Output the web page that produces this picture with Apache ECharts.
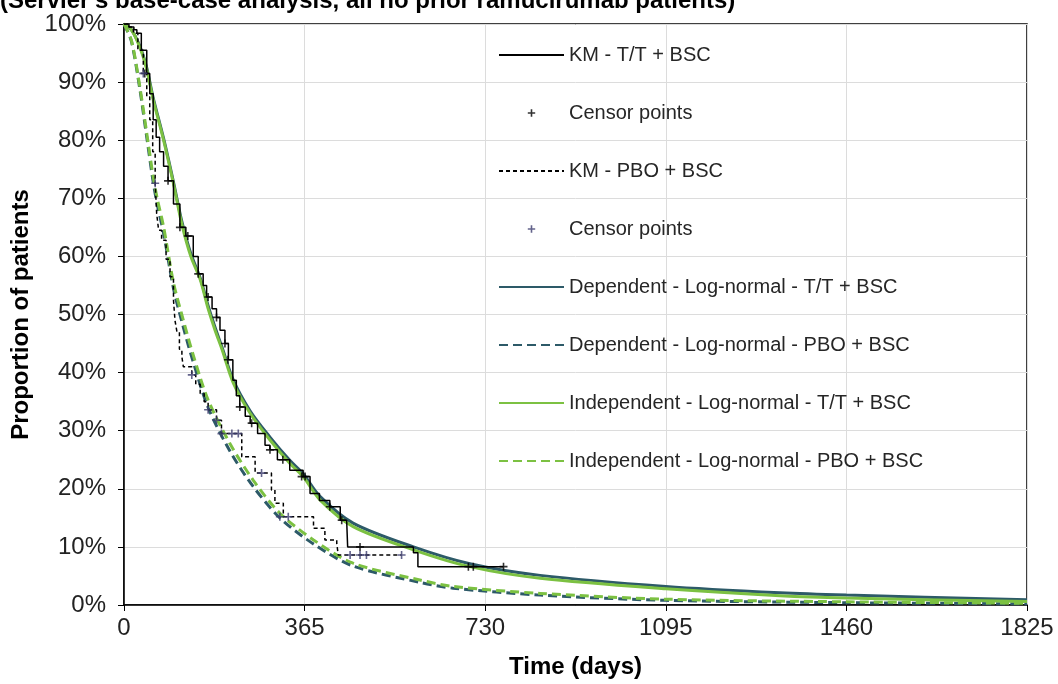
<!DOCTYPE html>
<html>
<head>
<meta charset="utf-8">
<script src="https://cdn.jsdelivr.net/npm/echarts@6/dist/echarts.min.js"></script>
<style>
  html, body { margin: 0; padding: 0; background: #fff; }
  #chart { width: 1058px; height: 684px; }
</style>
</head>
<body>
<div id="chart"></div>
<script>
// time in days, survival in %
const kmTTDays = [0, 10, 20, 26, 35, 46, 52, 59, 65, 72, 80, 89, 100, 113, 125, 140, 150, 160, 167, 178, 187, 194, 204, 211, 220, 227, 234, 245, 255, 270, 285, 295, 310, 335, 362, 376, 395, 416, 437, 450, 452, 585, 594, 767];
const kmTTSurv = [100, 99.5, 99, 98.4, 95.5, 91.5, 88, 83.5, 80.5, 78, 75.5, 73, 69, 65, 63.5, 60, 57, 55, 53, 51, 49.5, 47.3, 45, 42.2, 38.7, 36, 34.1, 32.5, 31.3, 29.5, 27.5, 26.7, 25, 23.2, 22.1, 19.2, 18, 16.9, 14.6, 14.3, 10, 9, 6.6, 6.6];

const censorTTDays = [42, 89, 113, 129, 150, 170, 187, 204, 210, 234, 258, 295, 321, 359, 366, 416, 440, 477, 696, 706, 767];
const censorTTSurv = [91.5, 73, 65, 63.5, 57, 53, 49.5, 45, 42.2, 34.1, 31.3, 26.7, 25, 22.1, 22.1, 16.9, 14.6, 10, 6.6, 6.6, 6.6];

const kmPBODays = [0, 10, 19, 28, 39, 46, 52, 58, 63, 66, 70, 76, 85, 93, 100, 103, 107, 112, 117, 120, 137, 145, 154, 162, 170, 187, 197, 238, 265, 298, 305, 322, 383, 406, 430, 433, 561];
const kmPBOSurv = [100, 99.5, 98.4, 95.5, 91.5, 87.5, 83.5, 78, 72.6, 67.4, 64.5, 62.8, 59.5, 56.5, 52.5, 49, 47, 44, 42.7, 41, 39.6, 38, 36.4, 35, 33.6, 31.8, 29.5, 25.5, 22.7, 19.8, 17.5, 15.2, 13.2, 11.2, 10.6, 8.6, 8.6];

const censorPBODays = [39, 63, 137, 170, 187, 197, 218, 231, 278, 315, 332, 457, 477, 490, 561];
const censorPBOSurv = [91.5, 72.6, 39.6, 33.6, 31.8, 29.5, 29.5, 29.5, 22.7, 15.2, 15.2, 8.6, 8.6, 8.6, 8.6];

const fitTTDays = [0, 15, 32, 45, 59, 80, 100, 117, 135, 154, 170, 184, 198, 221, 255, 295, 335, 362, 396, 463, 585, 699, 841, 1095, 1326, 1460, 1825];
const depTTSurv = [100, 99, 96.2, 92.8, 87.3, 80.3, 72.8, 66, 60.5, 56.3, 51.5, 47.8, 44.4, 38.7, 33.4, 28.9, 24.9, 22.6, 18.7, 14.1, 10, 7.1, 5.1, 3.2, 2.1, 1.7, 0.9];
const indTTSurv = [100, 99, 96, 92.5, 87, 80, 72.5, 65.5, 60, 56, 51, 47.3, 44, 38.2, 33, 28.4, 24.4, 22.1, 18.1, 13.5, 9.5, 6.6, 4.6, 2.8, 1.6, 1.2, 0.6];

const fitPBODays = [0, 15, 32, 46, 59, 67, 80, 100, 120, 140, 170, 214, 261, 315, 383, 463, 598, 665, 841, 1095, 1460, 1825];
const depPBOSurv = [100, 97, 88.8, 80.5, 72.8, 69, 64, 54.5, 47.8, 41.8, 34, 26.5, 20.4, 15, 10.5, 6.7, 3.9, 2.9, 1.7, 0.8, 0.4, 0.2];
const indPBOSurv = [100, 97.2, 89.2, 81.2, 73.7, 70, 65.1, 55.5, 49, 43, 35.3, 27.8, 21.5, 15.8, 11.2, 7.2, 4.3, 3.2, 2, 1, 0.55, 0.3];

const zip = (xs, ys) => xs.map((x, i) => [x, ys[i]]);

const font = 'Liberation Sans, Arial, sans-serif';
const teal = '#2d5a68';
const green = '#7cc142';
const navy = '#3c3c6e';
const plus = 'path://M4,0H6V4H10V6H6V10H4V6H0V4H4Z';
const plusPad = 'path://M0,0M14,14M6.2,3.3H7.8V6.2H10.7V7.8H7.8V10.7H6.2V7.8H3.3V6.2H6.2Z';

const chart = echarts.init(document.getElementById('chart'));

function fitLine(name, days, surv, color, dashed) {
  return {
    name, type: 'line', smooth: 0.3, symbol: 'none',
    lineStyle: { color, width: 3, type: dashed ? [9, 5] : 'solid' },
    itemStyle: { color, opacity: 0 },
    data: zip(days, surv)
  };
}

chart.setOption({
  animation: false,
  backgroundColor: '#fff',
  title: {
    text: "(Servier's base-case analysis, all no prior ramucirumab patients)",
    left: 0,
    top: -11,
    padding: 0,
    textStyle: { fontFamily: font, fontSize: 24, fontWeight: 'bold', color: '#000' }
  },
  grid: {
    left: 124, right: 31, top: 24, bottom: 79,
    show: true, borderColor: '#000', borderWidth: 1.5
  },
  legend: {
    orient: 'vertical',
    left: 498, top: 45,
    padding: 0,
    itemWidth: 65, itemHeight: 14, itemGap: 38,
    selectedMode: false,
    textStyle: { fontFamily: font, fontSize: 20, color: '#262626', lineHeight: 20 },
    data: [
      'KM - T/T + BSC',
      { name: 'Censor points', icon: plusPad },
      'KM - PBO + BSC',
      { name: 'Censor points ', icon: plusPad },
      'Dependent - Log-normal - T/T + BSC',
      'Dependent - Log-normal - PBO + BSC',
      'Independent - Log-normal - T/T + BSC',
      'Independent - Log-normal - PBO + BSC'
    ]
  },
  xAxis: {
    type: 'value', min: 0, max: 1825, interval: 365,
    name: 'Time (days)', nameLocation: 'middle', nameGap: 50,
    nameTextStyle: { fontFamily: font, fontSize: 24, fontWeight: 'bold', color: '#000' },
    axisLine: { lineStyle: { color: '#000', width: 1.5 } },
    axisTick: { show: true, inside: false, length: 6, lineStyle: { color: '#000' } },
    axisLabel: { fontFamily: font, fontSize: 24, color: '#222', margin: 11, formatter: v => String(v) },
    splitLine: { show: true, lineStyle: { color: '#dcdcdc', width: 1 } }
  },
  yAxis: {
    type: 'value', min: 0, max: 100, interval: 10,
    name: 'Proportion of patients', nameLocation: 'middle', nameGap: 90,
    nameTextStyle: { fontFamily: font, fontSize: 24, fontWeight: 'bold', color: '#000' },
    axisLine: { show: true, lineStyle: { color: '#000', width: 1.5 } },
    axisTick: { show: true, inside: false, length: 6, lineStyle: { color: '#000' } },
    axisLabel: { fontFamily: font, fontSize: 24, color: '#222', margin: 18, formatter: '{value}%' },
    splitLine: { show: true, lineStyle: { color: '#dcdcdc', width: 1 } }
  },
  series: [
    {
      name: 'KM - T/T + BSC', type: 'line', step: 'end', symbol: 'none', z: 4,
      lineStyle: { color: '#000', width: 1.5 }, itemStyle: { color: '#000', opacity: 0 },
      data: zip(kmTTDays, kmTTSurv)
    },
    {
      name: 'Censor points', type: 'scatter', symbol: plus, symbolSize: 8, z: 5,
      itemStyle: { color: '#000' },
      data: zip(censorTTDays, censorTTSurv)
    },
    {
      name: 'KM - PBO + BSC', type: 'line', step: 'end', symbol: 'none', z: 4,
      lineStyle: { color: '#000', width: 1.5, type: [4, 3] }, itemStyle: { color: '#000', opacity: 0 },
      data: zip(kmPBODays, kmPBOSurv)
    },
    {
      name: 'Censor points ', type: 'scatter', symbol: plus, symbolSize: 8, z: 5,
      itemStyle: { color: navy },
      data: zip(censorPBODays, censorPBOSurv)
    },
    fitLine('Dependent - Log-normal - T/T + BSC', fitTTDays, depTTSurv, teal, false),
    fitLine('Dependent - Log-normal - PBO + BSC', fitPBODays, depPBOSurv, teal, true),
    fitLine('Independent - Log-normal - T/T + BSC', fitTTDays, indTTSurv, green, false),
    fitLine('Independent - Log-normal - PBO + BSC', fitPBODays, indPBOSurv, green, true)
  ]
});
</script>
</body>
</html>
